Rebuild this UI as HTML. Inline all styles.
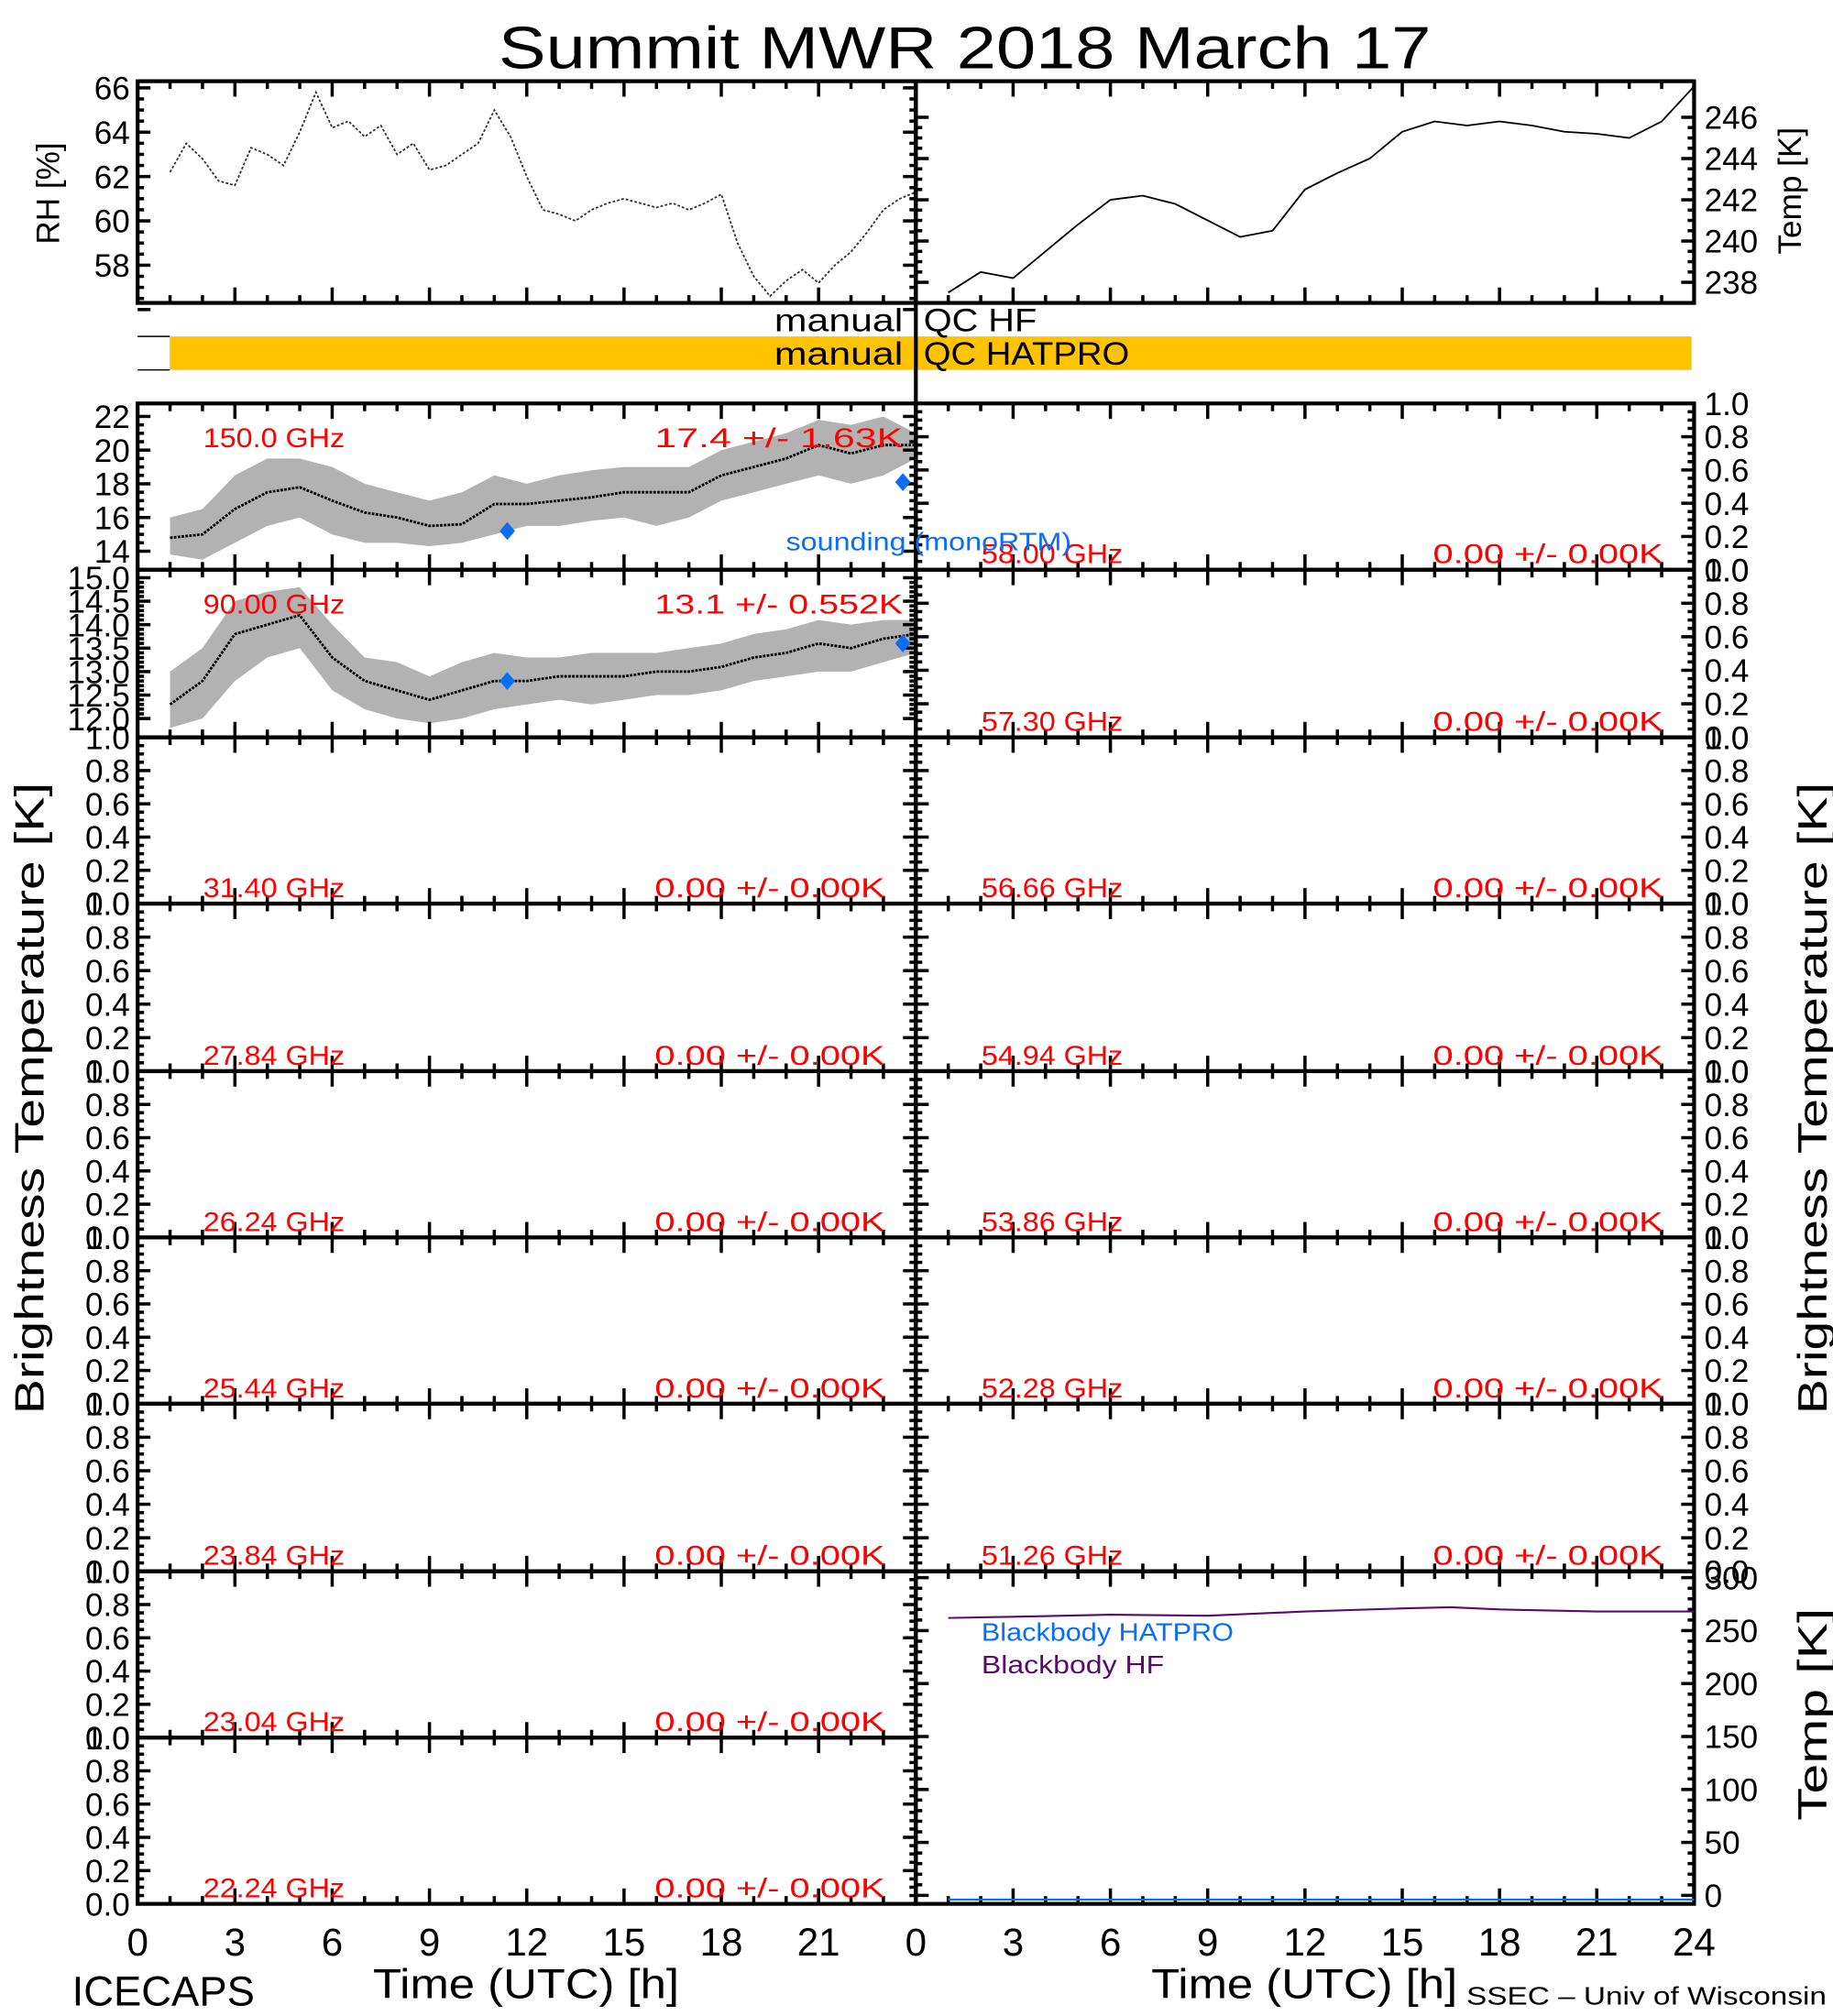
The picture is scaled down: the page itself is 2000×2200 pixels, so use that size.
<!DOCTYPE html>
<html><head><meta charset="utf-8"><style>
html,body{margin:0;padding:0;background:#fff;}
svg{display:block;}
text{font-family:"Liberation Sans",sans-serif;}
</style></head><body>
<svg id="fig" width="2000" height="2200" viewBox="0 0 1425 1564" preserveAspectRatio="none" xmlns="http://www.w3.org/2000/svg">
<text x="750" y="53" font-size="46" text-anchor="middle" textLength="725" lengthAdjust="spacingAndGlyphs">Summit  MWR  2018  March  17</text>
</svg>
<script>
// ---- data ----
const rhHours = [1,1.5,2,2.5,3,3.5,4,4.5,5,5.5,6,6.5,7,7.5,8,8.5,9,9.5,10,10.5,11,11.5,12,12.5,13,13.5,14,14.5,15,15.5,16,16.5,17,17.5,18,18.5,19,19.5,20,20.5,21,21.5,22,22.5,23,23.5,24];
const rhValues = [62.2,63.5,62.8,61.8,61.6,63.3,63.0,62.5,64.0,65.8,64.2,64.5,63.8,64.3,63.0,63.5,62.3,62.5,63.0,63.5,65.0,63.8,62.0,60.5,60.3,60.0,60.5,60.8,61.0,60.8,60.6,60.8,60.5,60.8,61.2,59.0,57.5,56.6,57.3,57.8,57.2,58.0,58.6,59.5,60.5,61.0,61.3];
const tempHours = [1,2,3,4,5,6,7,8,9,10,11,12,13,14,15,16,17,18,19,20,21,22,23,24];
const tempValues = [237.5,238.5,238.2,239.5,240.8,242,242.2,241.8,241.0,240.2,240.5,242.5,243.3,244.0,245.3,245.8,245.6,245.8,245.6,245.3,245.2,245.0,245.8,247.5];
const tbHours = [1,2,3,4,5,6,7,8,9,10,11,12,13,14,15,16,17,18,19,20,21,22,23,24];
const tb150Mean = [14.8,15,16.5,17.5,17.8,17,16.3,16,15.5,15.6,16.8,16.8,17,17.2,17.5,17.5,17.5,18.5,19,19.5,20.3,19.8,20.3,20.3];
const tb150Min = [13.8,13.5,14.5,15.5,16,15,14.5,14.5,14.3,14.5,15,15.5,15.5,15.8,16,15.5,16,17,17.5,18,18.5,18,18.5,19.5];
const tb150Max = [16,16.5,18.5,19.5,19.5,19,18,17.5,17,17.5,18.5,18,18.5,18.8,19,19,19,20,20.5,21,21.8,21.5,22,21];
const tb90Mean = [12.3,12.8,13.8,14,14.2,13.3,12.8,12.6,12.4,12.6,12.8,12.8,12.9,12.9,12.9,13,13,13.1,13.3,13.4,13.6,13.5,13.7,13.8];
const tb90Min = [11.8,12,12.8,13.3,13.5,12.6,12.2,12,11.9,12,12.2,12.3,12.4,12.3,12.4,12.5,12.5,12.6,12.8,12.9,13,13,13.2,13.4];
const tb90Max = [13,13.5,14.5,14.7,14.8,14,13.3,13.2,12.9,13.2,13.4,13.3,13.3,13.4,13.4,13.4,13.5,13.6,13.8,13.9,14.1,14,14.1,14.1];
const sondeHours = [11.4,23.6];
const sonde150 = [15.2,18.1];
const sonde90 = [12.8,13.6];
const bbHours = [1,3,6,9,12,15,16.5,18,21,24];
const bbHF = [262,263,265,264,268,271,272,270,268,268];
const bbHatpro = [-4,-4,-4,-4,-4,-4,-4,-4,-4,-4];
const leftFreqs = ["150.0 GHz","90.00 GHz","31.40 GHz","27.84 GHz","26.24 GHz","25.44 GHz","23.84 GHz","23.04 GHz","22.24 GHz"];
const leftStats = ["17.4  +/-  1.63K","13.1  +/-  0.552K","0.00  +/-  0.00K","0.00  +/-  0.00K","0.00  +/-  0.00K","0.00  +/-  0.00K","0.00  +/-  0.00K","0.00  +/-  0.00K","0.00  +/-  0.00K"];
const rightFreqs = ["58.00 GHz","57.30 GHz","56.66 GHz","54.94 GHz","53.86 GHz","52.28 GHz","51.26 GHz"];
const xTickLabels = ["0","3","6","9","12","15","18","21"];
const xTickLabelsRight = ["0","3","6","9","12","15","18","21","24"];
const unitTicks = ["0.0","0.2","0.4","0.6","0.8","1.0"];
const tb150Ticks = ["14","16","18","20","22"];
const tb90Ticks = ["12.0","12.5","13.0","13.5","14.0","14.5","15.0"];
const rhTicks = ["58","60","62","64","66"];
const tempTicks = ["238","240","242","244","246"];
const bbTicks = ["0","50","100","150","200","250","300"];

// ---- helpers ----
const NS="http://www.w3.org/2000/svg";
const svg=document.getElementById('fig');
function mk(tag,attrs,parent){const e=document.createElementNS(NS,tag);for(const k in attrs)e.setAttribute(k,attrs[k]);(parent||svg).appendChild(e);return e;}
function txt(s,x,y,size,anchor,fill,parent,len){const e=mk('text',{x:x,y:y,'font-size':size,'text-anchor':anchor||'start',fill:fill||'#000'},parent);if(len){e.setAttribute('textLength',len);e.setAttribute('lengthAdjust','spacingAndGlyphs');}e.textContent=s;return e;}
const LX0=107,LX1=712,RX0=712,RX1=1317;
function xs(x0,x1){return h=>x0+(x1-x0)*h/24;}
function ys(y0,y1,v0,v1){return v=>y1-(v-v0)/(v1-v0)*(y1-y0);}

function frame(x0,y0,x1,y1,side,name,yt){
  const g=mk('g',{});
  
  
  mk('rect',{x:x0,y:y0,width:x1-x0,height:y1-y0,fill:'none',stroke:'#000','stroke-width':3},g);
  const X=xs(x0,x1);
  for(let h=0;h<=24;h++){const L=h%3===0?12:6;const x=X(h);
    mk('line',{x1:x,y1:y0,x2:x,y2:y0+L,stroke:'#000','stroke-width':2.5},g);
    mk('line',{x1:x,y1:y1,x2:x,y2:y1-L,stroke:'#000','stroke-width':2.5},g);}
  if(yt){yt.vals.forEach((v,i)=>{const y=yt.scale(v);
      mk('line',{x1:x0,y1:y,x2:x0+10,y2:y,stroke:'#000','stroke-width':2.5},g);
      mk('line',{x1:x1,y1:y,x2:x1-10,y2:y,stroke:'#000','stroke-width':2.5},g);
      if(i<yt.vals.length-1){for(let m=1;m<yt.minor;m++){const ym=yt.scale(v+(yt.vals[i+1]-v)*m/yt.minor);
        if(ym<y0||ym>y1)continue;
        mk('line',{x1:x0,y1:ym,x2:x0+5,y2:ym,stroke:'#000','stroke-width':2.5},g);
        mk('line',{x1:x1,y1:ym,x2:x1-5,y2:ym,stroke:'#000','stroke-width':2.5},g);}}
      if(yt.labels){const l=yt.labels[i];
        if(side==='left')txt(l,x0-6,y+9,25,'end','#000',g);else txt(l,x1+8,y+9,25,'start','#000',g);}
  });}
  return g;
}
function linePath(X,Y,hs,vs,attrs,name){const d=hs.map((h,i)=>(i?'L':'M')+X(h).toFixed(1)+','+Y(vs[i]).toFixed(1)).join('');
  const p=mk('path',Object.assign({d:d,fill:'none'},attrs));
  
  return p;}
function band(X,Y,hs,lo,hi,mean,name){const g=mk('g',{});
  
  
  const up=hs.map((h,i)=>X(h).toFixed(1)+','+Y(hi[i]).toFixed(1));
  const dn=hs.map((h,i)=>X(h).toFixed(1)+','+Y(lo[i]).toFixed(1)).reverse();
  mk('polygon',{points:up.concat(dn).join(' '),fill:'#000','fill-opacity':0.3},g);
  const d=hs.map((h,i)=>(i?'L':'M')+X(h).toFixed(1)+','+Y(mean[i]).toFixed(1)).join('');
  mk('path',{d:d,fill:'none',stroke:'#000','stroke-width':2,'stroke-dasharray':'2 1'},g);
  return g;}
function diamonds(X,Y,hs,vs,name){hs.forEach((h,i)=>{const x=X(h),y=Y(vs[i]);
  const p=mk('polygon',{points:`${x},${y-7} ${x+6},${y} ${x},${y+7} ${x-6},${y}`,fill:'#0a6ef5'});
  
  });}

// ---- RH & Temp panel ----
const RHY=ys(63,235,56.3,66.3);
frame(LX0,63,LX1,235,'left','rh-panel',{vals:[56,58,60,62,64,66],minor:4,scale:RHY,labels:["",...rhTicks]});
linePath(xs(LX0,LX1),RHY,rhHours,rhValues,{stroke:'#333','stroke-width':1.3,'stroke-dasharray':'2 1.5'},'rh-series');
const TY=ys(63,235,237,247.75);
frame(RX0,63,RX1,235,'right','temp-panel',{vals:[238,240,242,244,246],minor:4,scale:TY,labels:tempTicks});
linePath(xs(RX0,RX1),TY,tempHours,tempValues,{stroke:'#000','stroke-width':1.3},'temp-series');
(function(){const t=txt('RH  [%]',0,0,25,'middle');t.setAttribute('transform','translate(46,150) rotate(-90)');

const u=txt('Temp  [K]',0,0,25,'middle');u.setAttribute('transform','translate(1400,148) rotate(-90)');
})();

// ---- QC bars ----
mk('rect',{x:132,y:261,width:1183,height:26,fill:'#ffc300',});
mk('line',{x1:107,y1:261,x2:132,y2:261,stroke:'#000','stroke-width':1});
mk('line',{x1:107,y1:287,x2:132,y2:287,stroke:'#000','stroke-width':1});
mk('line',{x1:712,y1:63,x2:712,y2:313,stroke:'#000','stroke-width':3,});
txt('manual',702,257,25,'end','#000',null,100);
txt('QC  HF',718,257,25,'start','#000',null,88);
txt('manual',702,283,25,'end','#000',null,100);
txt('QC  HATPRO',718,283,25,'start','#000',null,160);

// ---- brightness panels ----
const edges=[313,442,572,701,831,960,1089,1219,1348,1477];
for(let r=0;r<9;r++){
  const y0=edges[r],y1=edges[r+1];
  let Y,yt;
  if(r===0){Y=ys(y0,y1,12.9,22.77);yt={vals:[14,16,18,20,22],minor:4,scale:Y,labels:tb150Ticks};}
  else if(r===1){Y=ys(y0,y1,11.6,15.17);yt={vals:[12,12.5,13,13.5,14,14.5,15],minor:5,scale:Y,labels:tb90Ticks};}
  else{Y=ys(y0,y1,0,1);yt={vals:[0,0.2,0.4,0.6,0.8,1.0],minor:4,scale:Y,labels:unitTicks};}
  frame(LX0,y0,LX1,y1,'left','left-panel-'+(r+1),yt);
  const X=xs(LX0,LX1);
  if(r===0){band(X,Y,tbHours,tb150Min,tb150Max,tb150Mean,'tb-150ghz-series');diamonds(X,Y,sondeHours,sonde150,'sounding-150ghz');}
  if(r===1){band(X,Y,tbHours,tb90Min,tb90Max,tb90Mean,'tb-90ghz-series');diamonds(X,Y,sondeHours,sonde90,'sounding-90ghz');}
  const ly=(r<2)?y0+34:y1-5;
  txt(leftFreqs[r],158,ly,21,'start','#ff0000',null,110);
  txt(leftStats[r],509,ly,21,'start','#ff0000',null,r<2?193:179);
  if(r<7){const Yr=ys(y0,y1,0,1);
    frame(RX0,y0,RX1,y1,'right','right-panel-'+(r+1),{vals:[0,0.2,0.4,0.6,0.8,1.0],minor:4,scale:Yr,labels:unitTicks});
    txt(rightFreqs[r],763,y1-5,21,'start','#ff0000',null,110);
    txt('0.00  +/-  0.00K',1114,y1-5,21,'start','#ff0000',null,179);
  } else if(r===8){
    const Yb=ys(1219,1477,-8,306);
    frame(RX0,1219,RX1,1477,'right','blackbody-panel',{vals:[0,50,100,150,200,250,300],minor:5,scale:Yb,labels:bbTicks});
    const X2=xs(RX0,RX1);
    linePath(X2,Yb,bbHours,bbHF,{stroke:'#5a0a6e','stroke-width':1.5},'blackbody-hf-line');
    linePath(X2,Yb,bbHours,bbHatpro,{stroke:'#0a6ef5','stroke-width':1.5},'blackbody-hatpro-line');
    txt('Blackbody  HATPRO',763,1273,20,'start','#0a6ef5',null,196);
    txt('Blackbody  HF',763,1298,20,'start','#5a0a6e',null,142);
  }
}
txt('sounding  (monoRTM)',611,427,20,'start','#0a6ef5',null,222);

// ---- x tick labels ----
xTickLabels.forEach((l,i)=>{txt(l,xs(LX0,LX1)(i*3),1517,30,'middle');});
xTickLabelsRight.forEach((l,i)=>{txt(l,xs(RX0,RX1)(i*3),1517,30,'middle');});
txt('Time  (UTC)  [h]',409,1550,32,'middle','#000',null,238);
txt('Time  (UTC)  [h]',1014,1550,32,'middle','#000',null,238);
txt('ICECAPS',56,1556,32,'start','#000',null,142);
txt('SSEC  –  Univ  of  Wisconsin',1140,1555,20,'start','#000',null,280);
(function(){const a=txt('Brightness  Temperature  [K]',0,0,32,'middle','#000',null,490);a.setAttribute('transform','translate(34,852) rotate(-90)');

const b=txt('Brightness  Temperature  [K]',0,0,32,'middle','#000',null,490);b.setAttribute('transform','translate(1420,852) rotate(-90)');

const c=txt('Temp  [K]',0,0,32,'middle','#000',null,165);c.setAttribute('transform','translate(1420,1330) rotate(-90)');
})();
</script>
</body></html>
